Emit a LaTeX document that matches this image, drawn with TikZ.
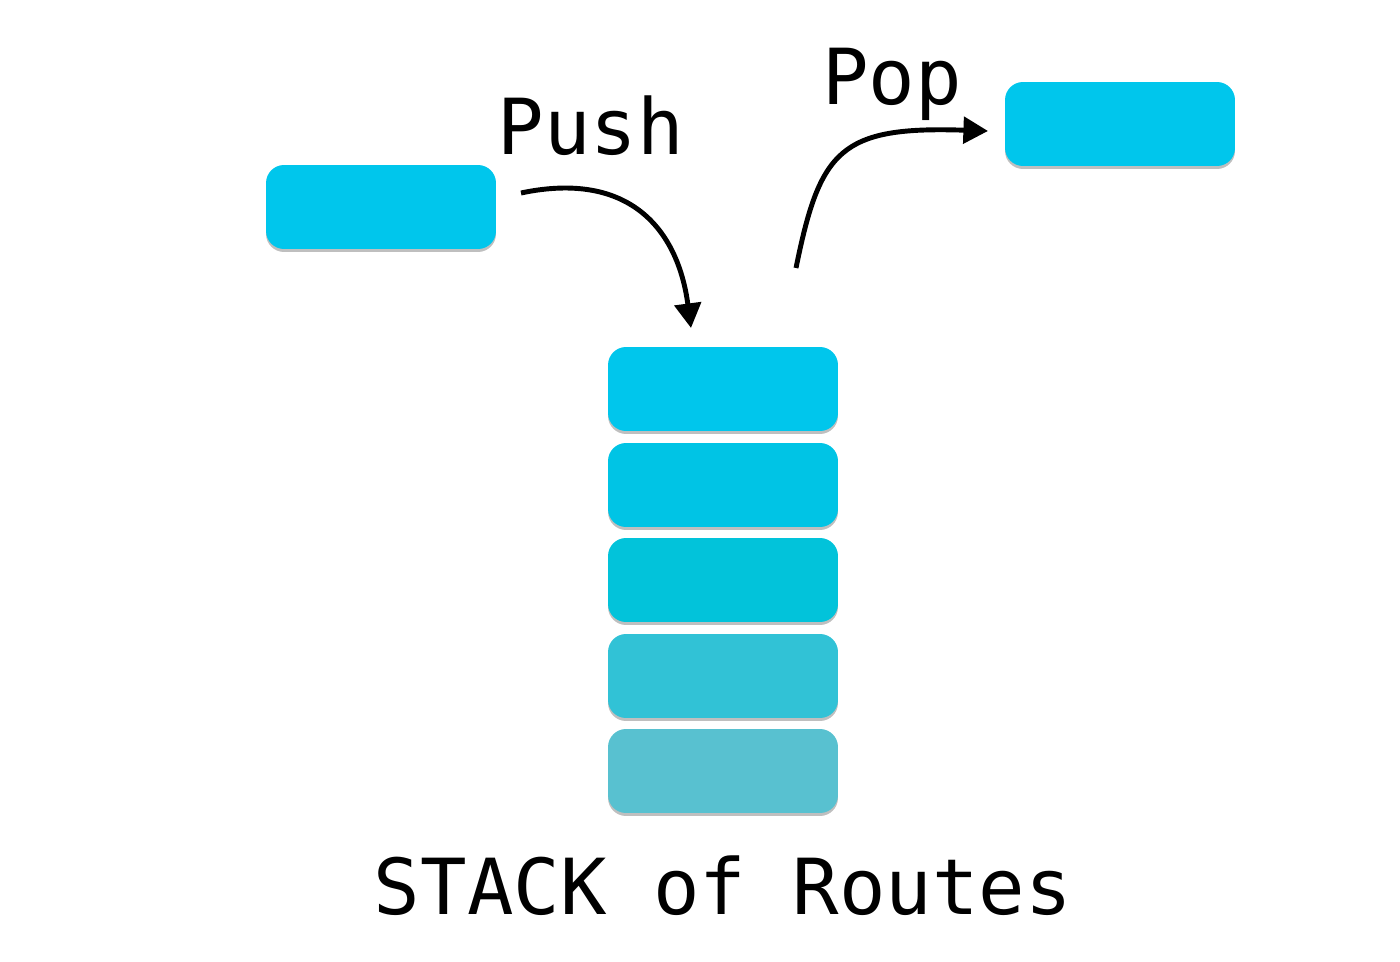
\documentclass[tikz,border=0pt]{standalone}
\usepackage{fontspec}
\usepackage{tikz}
\usetikzlibrary{arrows.meta,shadows}
\newfontfamily\monofont{DejaVu Sans Mono}
\definecolor{routeA}{HTML}{00C6EC}
\definecolor{routeB}{HTML}{00C4E5}
\definecolor{routeC}{HTML}{02C3DA}
\definecolor{routeD}{HTML}{31C2D6}
\definecolor{routeE}{HTML}{58C1D0}

\begin{document}
\begin{tikzpicture}[x=0.02cm,y=-0.02cm,
    route/.style={rounded corners=0.36cm,minimum width=4.6cm,minimum height=1.68cm,
      drop shadow={shadow xshift=0pt,shadow yshift=-0.06cm,opacity=0.25,fill=black}},
    label/.style={font=\monofont\fontsize{44}{50}\selectfont,anchor=base},
    flow/.style={line width=2.8pt,-{Triangle[length=14pt,width=15pt]}}]
      \useasboundingbox (0,0) rectangle (1400,962);
      % route being pushed and route popped off
      \node[route,fill=routeA] (newroute) at (381,207) {};
      \node[route,fill=routeA] (oldroute) at (1120,124) {};
      % the stack, top to bottom
      \node[route,fill=routeA] (top) at (723,389) {};
      \node[route,fill=routeB] (second) at (723,485) {};
      \node[route,fill=routeC] (third) at (723,580) {};
      \node[route,fill=routeD] (fourth) at (723,676) {};
      \node[route,fill=routeE] (bottom) at (723,771) {};
      \node[label] (push) at (591,155) {Push};
      \node[label] (pop) at (892,105) {Pop};
      \node[label] (title) at (723,914) {STACK of Routes};
      \coordinate (pushstart) at (521,193);
      \coordinate (pushend) at (691,328);
      \coordinate (popstart) at (796,268);
      \coordinate (popend) at (988,131);
      \draw[flow] (pushstart) .. controls (630,170) and (678,230) .. (pushend);
      \draw[flow] (popstart) .. controls (820,150) and (840,126) .. (popend);
    \end{tikzpicture}
\end{document}
